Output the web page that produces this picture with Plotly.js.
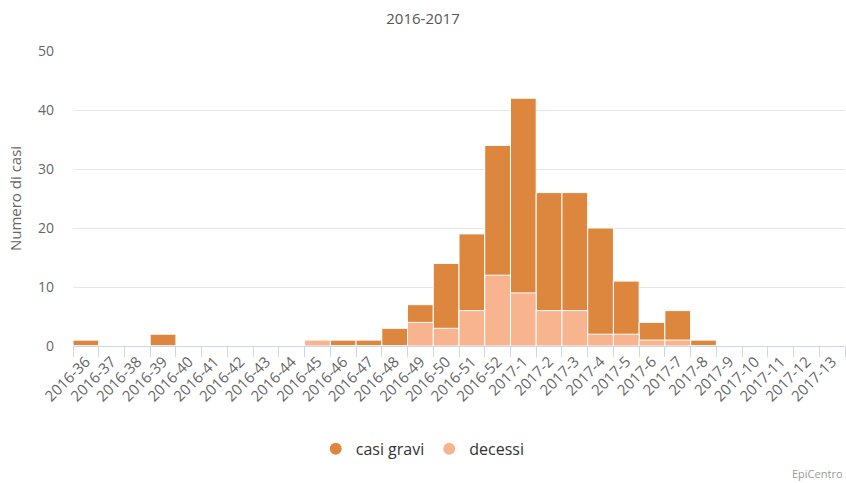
<!DOCTYPE html>
<html><head><meta charset="utf-8">
<script src="https://cdn.plot.ly/plotly-3.0.1.min.js"></script>
<style>html,body{margin:0;padding:0;background:#fff}#c{width:846px;height:483px}</style>
</head><body><div id="c"></div>
<script>
const weeks = ["2016-36","2016-37","2016-38","2016-39","2016-40","2016-41","2016-42","2016-43","2016-44","2016-45","2016-46","2016-47","2016-48","2016-49","2016-50","2016-51","2016-52","2017-1","2017-2","2017-3","2017-4","2017-5","2017-6","2017-7","2017-8","2017-9","2017-10","2017-11","2017-12","2017-13"];
const casiGravi = [1,0,0,2,0,0,0,0,0,1,1,1,3,7,14,19,34,42,26,26,20,11,4,6,1,0,0,0,0,0];
const decessi   = [0,0,0,0,0,0,0,0,0,1,0,0,0,4,3,6,12,9,6,6,2,2,1,1,0,0,0,0,0,0];
const cGravi = "#DD863D", cDec = "#F8B48F";
const font = "'Open Sans', 'DejaVu Sans', sans-serif";
const data = [
  {type:"bar", x:weeks, y:casiGravi, name:"casi gravi", marker:{color:cGravi, line:{color:"#fff", width:1}}, showlegend:false},
  {type:"bar", x:weeks, y:decessi, name:"decessi", marker:{color:cDec, line:{color:"#fff", width:1}}, showlegend:false},
  {type:"scatter", mode:"markers", x:[null], y:[null], name:"casi gravi", marker:{color:cGravi, size:15, symbol:"circle"}},
  {type:"scatter", mode:"markers", x:[null], y:[null], name:"decessi", marker:{color:cDec, size:15, symbol:"circle"}}
];
const layout = {
  width:846, height:483,
  margin:{l:73, r:1, t:51, b:137},
  paper_bgcolor:"#fff", plot_bgcolor:"#fff",
  barmode:"overlay", bargap:0,
  font:{family:font, color:"#666"},
  title:{text:"2016-2017", x:0.5, xanchor:"center", y:0.962, yanchor:"middle", font:{size:15, color:"#555", family:font}},
  xaxis:{type:"category", tickangle:-45, tickfont:{size:15, color:"#666"}, showline:true, linecolor:"#ccd6eb", linewidth:1,
         ticks:"outside", tickson:"boundaries", ticklen:10, tickcolor:"#ccd6eb", showgrid:false, zeroline:false, fixedrange:true},
  yaxis:{range:[0,50], tickvals:[0,10,20,30,40,50], tickfont:{size:14, color:"#666"}, gridcolor:"#e6e6e6", gridwidth:1,
         zeroline:false, showline:false, ticklabelstandoff:18,
         title:{text:"Numero di casi", font:{size:15, color:"#666"}, standoff:12}},
  legend:{orientation:"h", x:0.453, xanchor:"center", y:-0.349, yanchor:"middle", font:{size:16, color:"#333"}, itemsizing:"constant", itemwidth:30},
  annotations:[{text:"EpiCentro", xref:"paper", yref:"paper", x:1, y:-0.464, xanchor:"right", yanchor:"bottom", showarrow:false,
                font:{size:11, color:"#999"}}]
};
Plotly.newPlot("c", data, layout, {displayModeBar:false, staticPlot:true});
</script></body></html>
